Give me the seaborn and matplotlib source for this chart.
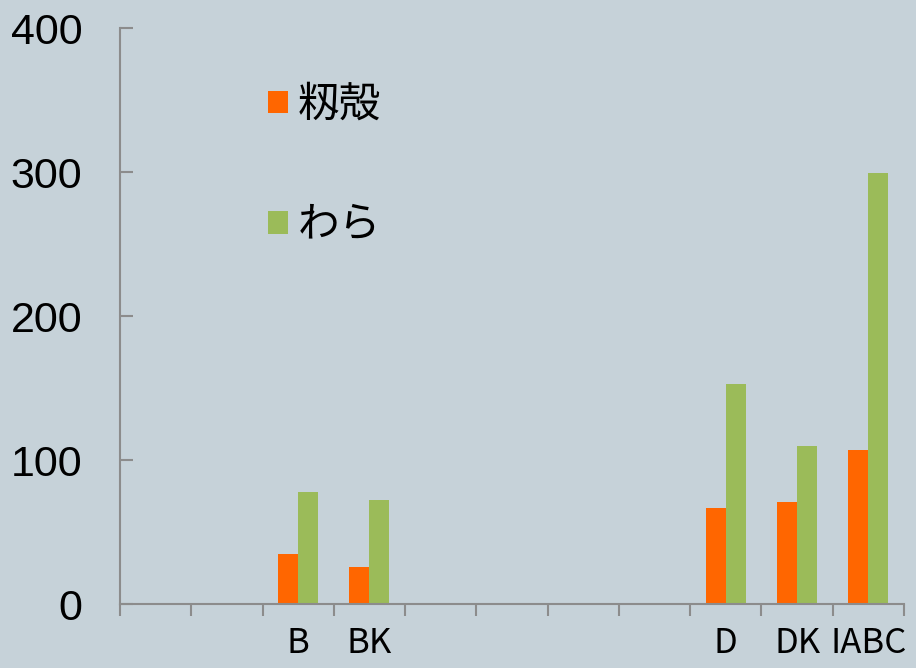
import matplotlib
matplotlib.use("Agg")
import matplotlib.pyplot as plt
import seaborn as sns
import pandas as pd
import numpy as np
from matplotlib.patches import Patch

# Category slots along the x axis and their drawn labels
slots = list(range(11))
slot_labels = ["", "", "B", "BK", "", "", "", "", "D", "DK", "IABC"]

# Series values per slot (NaN = no bar)
husk = [np.nan, np.nan, 35, 26, np.nan, np.nan, np.nan, np.nan, 67, 71, 107]
straw = [np.nan, np.nan, 78, 72, np.nan, np.nan, np.nan, np.nan, 153, 110, 299]
series_names = ["籾殻", "わら"]
colors = ["#FF6600", "#9BBB59"]

y_ticks = [0, 100, 200, 300, 400]

df = pd.DataFrame({
    "slot": slots * 2,
    "value": husk + straw,
    "series": [series_names[0]] * len(slots) + [series_names[1]] * len(slots),
})

sns.set_theme(style="white")
plt.rcParams["font.family"] = ["Noto Sans CJK JP", "DejaVu Sans"]
plt.rcParams["text.color"] = "black"
plt.rcParams["xtick.labelcolor"] = "black"
plt.rcParams["ytick.labelcolor"] = "black"

bg = "#C6D2D9"
axis_col = "#8C8C8C"

fig = plt.figure(figsize=(9.16, 6.68), dpi=100, facecolor=bg)
ax = fig.add_axes([120 / 916, 1 - 604 / 668, 784 / 916, 576 / 668])
ax.set_facecolor(bg)

sns.barplot(data=df, x="slot", y="value", hue="series", order=slots,
            hue_order=series_names, palette=colors, width=0.56, gap=0,
            linewidth=0, saturation=1, ax=ax, legend=False)

ax.set_xlim(-0.5, len(slots) - 0.5)
ax.set_ylim(0, 400)
ax.set_xlabel("")
ax.set_ylabel("")

for s in ["top", "right"]:
    ax.spines[s].set_visible(False)
for s in ["left", "bottom"]:
    ax.spines[s].set_color(axis_col)
    ax.spines[s].set_linewidth(1.5)

# y axis: inward ticks, labels pushed well left
ax.set_yticks(y_ticks)
ax.set_yticklabels([str(v) for v in y_ticks], family="Liberation Sans", fontsize=31)
ax.tick_params(axis="y", direction="in", length=9.5, width=1.5, color=axis_col,
               pad=27, left=True)

# x axis: boundary tick marks, labels centred on each slot
ax.set_xticks(np.arange(-0.5, len(slots), 1.0))
ax.set_xticklabels([])
ax.tick_params(axis="x", which="major", direction="out", length=8.5, width=1.5,
               color=axis_col, bottom=True)
ax.set_xticks(slots, minor=True)
ax.set_xticklabels(slot_labels, minor=True, fontsize=25)
ax.tick_params(axis="x", which="minor", length=0, pad=16)

handles = [Patch(facecolor=c, edgecolor="none") for c in colors]
ax.legend(handles, series_names, loc="upper left", bbox_to_anchor=(0.168, 0.93),
          frameon=False, fontsize=30, handlelength=0.46, handleheight=0.46,
          handletextpad=0.25, labelspacing=1.9, borderaxespad=0)

fig.savefig("out.png", dpi=100, facecolor=bg)
